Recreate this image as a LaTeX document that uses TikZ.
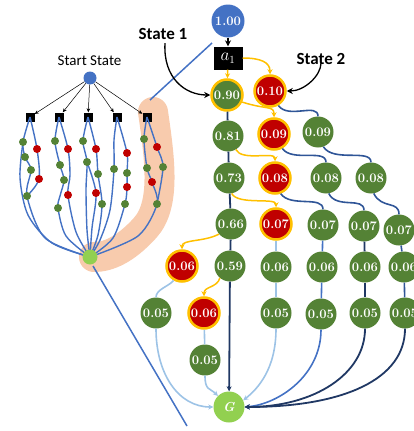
\documentclass[tikz,border=0pt]{standalone}
\usepackage{fontspec}
\setsansfont{Carlito}
\usepackage{tikz}
\usetikzlibrary{arrows.meta}
\definecolor{leaf}{HTML}{548235}
\definecolor{berry}{HTML}{C00000}
\definecolor{amber}{HTML}{FFC000}
\definecolor{sky}{HTML}{4472C4}
\definecolor{lime}{HTML}{92D050}
\definecolor{peach}{HTML}{F8CBAD}
\definecolor{navy}{HTML}{203864}
\definecolor{midblue}{HTML}{2F5597}
\definecolor{paleblue}{HTML}{9DC3E6}

\begin{document}
\begin{tikzpicture}[x=1pt,y=-1pt,
  val/.style={circle,fill=leaf,text=white,minimum size=31pt,inner sep=0pt,font=\fontsize{13}{13}\selectfont\bfseries},
  redval/.style={val,fill=berry,draw=amber,line width=2.5pt},
  act/.style={fill=black,text=white,minimum width=29pt,minimum height=23pt,inner sep=0pt,font=\fontsize{16}{16}\selectfont},
  goal/.style={val,fill=lime,font=\fontsize{13}{13}\selectfont\bfseries\itshape},
  lbl/.style={font=\sffamily\bfseries\fontsize{17}{17}\selectfont},
  sq/.style={fill=black,minimum size=9pt,inner sep=0pt},
  gd/.style={circle,fill=leaf,minimum size=8pt,inner sep=0pt},
  rd/.style={circle,fill=berry,minimum size=8pt,inner sep=0pt},
  wire/.style={sky,line width=1.4pt},
  yarr/.style={amber,line width=1.5pt,-{Stealth[length=5pt,width=5pt]}},
  blk/.style={black,line width=1.3pt,-{Stealth[length=6pt,width=6pt]}},
  nv/.style={navy,line width=1.8pt},
  md/.style={midblue,line width=1.6pt},
  bl/.style={sky,line width=1.6pt},
  lb/.style={paleblue,line width=1.6pt},
  tip/.style={-{Stealth[length=5pt,width=5pt]}}]
\useasboundingbox (0,0) rectangle (413,431);

\draw[peach,line width=30pt,line cap=round] (153,112) .. controls (160,160) and (166,205) .. (145,228) .. controls (125,250) and (108,257) .. (94,257);
\draw[sky,line width=1.5pt] (212,43) -- (150,100);
\draw[sky,line width=1.5pt] (93,266) -- (187,426);

\node[font=\sffamily\fontsize{15}{15}\selectfont] (stl) at (89.5,61) {Start State};
\node[circle,fill=sky,minimum size=13pt,inner sep=0pt] (st) at (90,78) {};
\node[sq] (q1) at (30,117) {};
\node[sq] (q2) at (59,117) {};
\node[sq] (q3) at (88,117) {};
\node[sq] (q4) at (117,117) {};
\node[sq] (q5) at (147,117) {};
\foreach \q in {q1,q2,q3,q4,q5}
  \draw[black,line width=0.5pt,-{Stealth[length=4pt,width=3.5pt]}] (st) -- (\q);

\coordinate (d11) at (23,142); \coordinate (d12) at (37,149); \coordinate (d13) at (25,157);
\coordinate (d14) at (31,170); \coordinate (d15) at (39,179); \coordinate (d16) at (27,196);
\coordinate (d21) at (55,141); \coordinate (d22) at (68,149); \coordinate (d23) at (60,165);
\coordinate (d24) at (64,180); \coordinate (d25) at (68,195); \coordinate (d26) at (58,208);
\coordinate (d31) at (83,141); \coordinate (d32) at (96,149); \coordinate (d33) at (87,162);
\coordinate (d34) at (98,174); \coordinate (d35) at (96,193); \coordinate (d36) at (102,204);
\coordinate (d41) at (114,169); \coordinate (d42) at (127,153); \coordinate (d43) at (127,173);
\coordinate (d44) at (127,187); \coordinate (d45) at (125,204);
\coordinate (d51) at (144,139); \coordinate (d52) at (157,147); \coordinate (d53) at (147,168);
\coordinate (d54) at (163,167); \coordinate (d55) at (152,182); \coordinate (d56) at (157,204);
\coordinate (bt) at (90,257);

\draw[wire] plot[smooth] coordinates {(q1) (d11) (d13) (d14) (d16) (45,238) (bt)};
\draw[wire] plot[smooth] coordinates {(q1) (d12) (d15) (d16)};
\draw[wire] plot[smooth] coordinates {(d11) (20,178) (28,215) (52,243) (bt)};
\draw[wire] plot[smooth] coordinates {(q2) (d21) (d23) (d24) (60,196) (d26) (66,236) (bt)};
\draw[wire] plot[smooth] coordinates {(q2) (d22) (70,175) (d25) (76,232) (bt)};
\draw[wire] plot[smooth] coordinates {(q3) (d31) (d33) (86,190) (87,230) (bt)};
\draw[wire] plot[smooth] coordinates {(q3) (d32) (d34) (d36) (98,235) (bt)};
\draw[wire] plot[smooth] coordinates {(d33) (d35) (92,228) (bt)};
\draw[wire] plot[smooth] coordinates {(q4) (114,140) (d41) (110,210) (100,240) (bt)};
\draw[wire] plot[smooth] coordinates {(q4) (d42) (d43) (d44) (d45) (113,238) (bt)};
\draw[wire] plot[smooth] coordinates {(q5) (d51) (d53) (d55) (d56) (138,236) (bt)};
\draw[wire] plot[smooth] coordinates {(q5) (d52) (d54) (d56)};

\foreach \d in {d11,d13,d14,d16,d21,d23,d24,d26,d31,d33,d34,d36,d41,d43,d45,d51,d53,d54,d56}
  \node[gd] at (\d) {};
\foreach \d in {d12,d15,d22,d25,d32,d35,d42,d44,d52,d55}
  \node[rd] at (\d) {};
\node[circle,fill=lime,minimum size=15pt,inner sep=0pt] (btn) at (bt) {};

\node[val,fill=sky,minimum size=33pt] (n100) at (228,21) {1.00};
\node[act] (a1) at (228,58) {$a_1$};
\node[val,draw=amber,line width=2.5pt] (n90) at (227,95) {0.90};
\node[redval] (n10) at (270,91) {0.10};
\node[val] (n81) at (228,136) {0.81};
\node[redval] (n09r) at (274,134) {0.09};
\node[val] (n09) at (318,132) {0.09};
\node[val] (n73) at (229,178) {0.73};
\node[redval] (n08r) at (275,178) {0.08};
\node[val] (n08a) at (326,178) {0.08};
\node[val] (n08b) at (371,178) {0.08};
\node[val] (n66) at (231,224) {0.66};
\node[redval] (n07r) at (276,224) {0.07};
\node[val] (n07a) at (323,225) {0.07};
\node[val] (n07b) at (364,226) {0.07};
\node[val] (n07c) at (399,230) {0.07};
\node[redval] (n06r) at (182,266) {0.06};
\node[val] (n59) at (230,266) {0.59};
\node[val] (n06a) at (276,267) {0.06};
\node[val] (n06b) at (322,267) {0.06};
\node[val] (n06c) at (365,267) {0.06};
\node[val] (n06d) at (404,267) {0.06};
\node[val] (n05a) at (156,313) {0.05};
\node[redval] (n06s) at (204,313) {0.06};
\node[val] (n05b) at (276,313) {0.05};
\node[val] (n05c) at (321,314) {0.05};
\node[val] (n05d) at (365,313) {0.05};
\node[val] (n05e) at (405,313) {0.05};
\node[val] (n05f) at (205,360) {0.05};
\node[goal] (g) at (229,407) {G};

\node[lbl] (lab1) at (163,34) {State 1};
\node[lbl] (lab2) at (321,59) {State 2};

\draw[blk] (n100) -- (a1);
\draw[blk] ([xshift=2pt]lab1.south) .. controls +(-2,35) and +(-25,0) .. (n90.west);
\draw[blk] ([yshift=5pt]lab2.south) .. controls +(0,12) and +(18,0) .. (n10.east);

\draw[yarr] (a1) -- (n90);
\draw[yarr] (a1.east) .. controls +(18,0) and +(0,-12) .. (n10.north);
\draw[yarr] (n90.-25) .. controls +(25,8) and +(0,-12) .. (n09r.north);
\draw[yarr] (n81.-60) .. controls +(6,12) and +(0,-10) .. (n08r.north);
\draw[yarr] (n73.-80) .. controls +(6,12) and +(0,-10) .. (n07r.north);
\draw[yarr] (n66.-140) .. controls +(-15,8) and +(0,-10) .. (n06r.north);
\draw[yarr] (n59.-130) .. controls +(-3,10) and +(0,-10) .. (n06s.north);

\draw[md] (n10.-60) .. controls +(10,14) and +(0,-14) .. (n09.north);
\draw[md] (n09r.-60) .. controls +(10,14) and +(0,-14) .. (n08a.north);
\draw[md] (n09.-70) .. controls +(10,16) and +(0,-14) .. (n08b.north);
\draw[md] (n08r.-70) .. controls +(10,14) and +(0,-14) .. (n07a.north);
\draw[md] (n08a.-80) .. controls +(8,16) and +(0,-14) .. (n07b.north);
\draw[md] (n08b.-80) .. controls +(8,16) and +(0,-14) .. (n07c.north);

\draw[nv] (n90) -- (n81);
\draw[nv] (n81) -- (n73);
\draw[nv] (n73) -- (n66);
\draw[nv] (n66) -- (n59);
\draw[lb] (n07r) -- (n06a);
\draw[lb] (n06a) -- (n05b);
\draw[bl] (n07a) -- (n06b);
\draw[bl] (n06b) -- (n05c);
\draw[nv] (n07b) -- (n06c);
\draw[nv] (n06c) -- (n05d);
\draw[md] (n07c) -- (n06d);
\draw[md] (n06d) -- (n05e);
\draw[lb] (n06r.-120) .. controls +(-5,6) and +(0,-8) .. (n05a.north);
\draw[lb] (n06s) -- (n05f);

\draw[nv,tip] (n59) -- (g);
\draw[lb,tip] (n05f.south) .. controls +(0,15) and +(-8,-8) .. (g.135);
\draw[lb,tip] (n05a.south) .. controls +(0,45) and +(-35,0) .. (g.west);
\draw[lb,tip] (n05b.south) .. controls +(0,40) and +(15,-12) .. (g.25);
\draw[bl,tip] (n05c.south) .. controls +(0,45) and +(35,-3) .. (g.east);
\draw[nv,tip] (n05d.south) .. controls +(0,45) and +(70,0) .. (g.east);
\draw[nv,tip] (n05e.south) .. controls +(0,50) and +(100,0) .. (g.east);
\end{tikzpicture}
\end{document}
